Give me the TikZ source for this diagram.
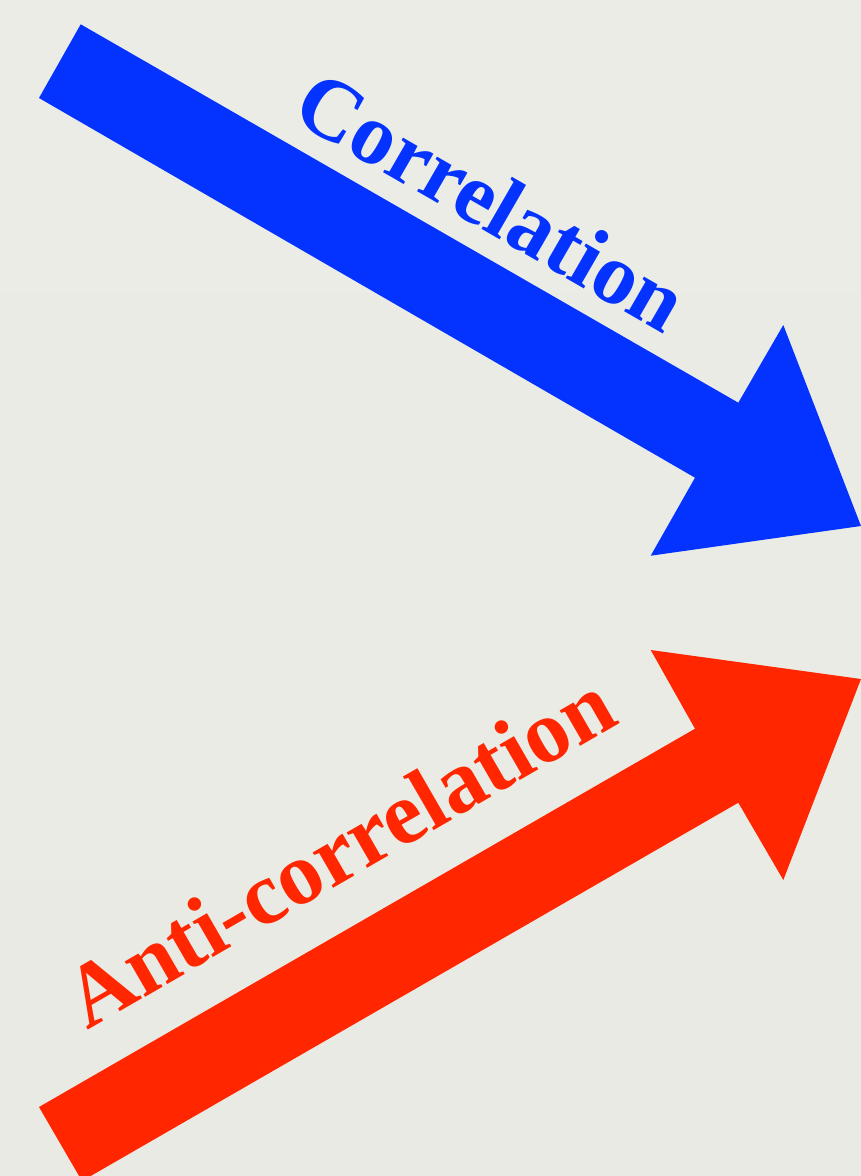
\documentclass[tikz,border=0pt]{standalone}
\usepackage{fontspec}
\setmainfont{Liberation Serif}
\definecolor{arrblue}{RGB}{4,51,255}
\definecolor{arrred}{RGB}{255,38,0}
\definecolor{bgtop}{RGB}{236,236,231}
\definecolor{bgmid}{RGB}{226,225,221}
\definecolor{bgbot}{RGB}{234,234,228}
\tikzset{
  lbl/.style={font=\fontsize{87}{90}\selectfont\bfseries, inner sep=0pt},
}
\begin{document}
\begin{tikzpicture}[x=1pt,y=-1pt]
\useasboundingbox (0,0) rectangle (861,1176);
\shade[top color=bgtop, middle color=bgmid, bottom color=bgbot] (0,0) rectangle (861,1176);
% blue arrow
\fill[arrblue] (80.7,24.3) -- (738.3,402.7) -- (783.3,325) -- (861,526) -- (650.7,555.7) -- (695,477.7) -- (39,98) -- cycle;
% red arrow
\fill[arrred] (39,1107) -- (695,728.7) -- (650.7,650) -- (861,679) -- (783.3,880) -- (738.3,802.7) -- (82,1181) -- cycle;
\node[lbl, text=arrblue, rotate=-30] (corr) at (492,201) {Correlation};
\node[lbl, text=arrred, rotate=30, font=\fontsize{89}{92}\selectfont\bfseries] (anti) at (339,850) {Anti-correlation};
\end{tikzpicture}
\end{document}
